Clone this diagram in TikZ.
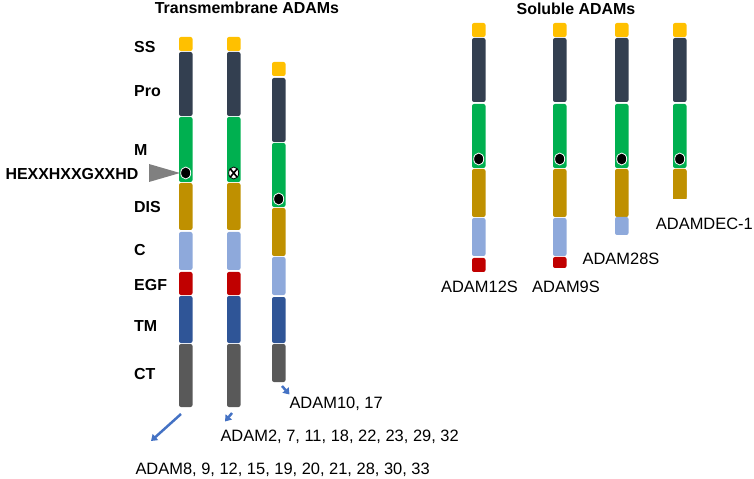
\documentclass[tikz,border=0pt]{standalone}
\usepackage{fontspec}
\setmainfont{Liberation Sans}
\usetikzlibrary{arrows.meta}
\definecolor{sscol}{HTML}{FFC000}
\definecolor{procol}{HTML}{333F50}
\definecolor{mcol}{HTML}{00B050}
\definecolor{discol}{HTML}{BF9000}
\definecolor{ccol}{HTML}{8EA9DB}
\definecolor{egfcol}{HTML}{C00000}
\definecolor{tmcol}{HTML}{2F5597}
\definecolor{ctcol}{HTML}{595959}
\definecolor{arrcol}{HTML}{4472C4}
\newcommand{\domain}[4]{\fill[#4, rounded corners=2] (#1,#2) rectangle ({#1+13.5},#3);}
\newcommand{\zincdot}[2]{\filldraw[fill=black, draw=white, line width=0.8] (#1,#2) ellipse (5 and 6);}

\begin{document}
\begin{tikzpicture}[x=1bp, y=-1bp,
    hdr/.style={font=\fontsize{16}{18}\selectfont\bfseries, anchor=base},
    side/.style={font=\fontsize{16}{18}\selectfont\bfseries, anchor=base west},
    adam/.style={font=\fontsize{16.5}{19}\selectfont, anchor=base},
    arr/.style={arrcol, line width=2.5, -{Triangle[length=6, width=8]}}]
    \useasboundingbox (0,0) rectangle (754,479);
    % titles
    \node[hdr] (tmtitle) at (247,14) {Transmembrane ADAMs};
    \node[hdr] (soltitle) at (576,14.5) {Soluble ADAMs};
    % domain names
    \node[side] (ss) at (130.7,52.7) {SS};
    \node[side] (pro) at (130.7,96.7) {Pro};
    \node[side] (m) at (130.7,155.7) {M};
    \node[side] (motif) at (2,179.7) {HEXXHXXGXXHD};
    \node[side] (dis) at (130.7,212.7) {DIS};
    \node[side] (c) at (130.7,255.7) {C};
    \node[side] (egf) at (130.7,290.7) {EGF};
    \node[side] (tm) at (130.7,331.7) {TM};
    \node[side] (ct) at (130.7,379.7) {CT};
    \fill[gray] (149,164) -- (180,173) -- (149,182) -- cycle;
    % transmembrane ADAMs
    \foreach \x in {179,227} {
        \domain{\x}{37}{51}{sscol}
        \domain{\x}{52}{116}{procol}
        \domain{\x}{117}{182}{mcol}
        \domain{\x}{183}{230}{discol}
        \domain{\x}{232}{270}{ccol}
        \domain{\x}{272}{295}{egfcol}
        \domain{\x}{296}{343}{tmcol}
        \domain{\x}{344}{407}{ctcol}
    }
    \domain{272}{62}{76}{sscol}
    \domain{272}{78}{142}{procol}
    \domain{272}{143}{207}{mcol}
    \domain{272}{208}{256}{discol}
    \domain{272}{257}{295}{ccol}
    \domain{272}{297}{343}{tmcol}
    \domain{272}{344}{382}{ctcol}
    \zincdot{185.7}{173}
    \filldraw[fill=white, draw=black, line width=0.8] (233.7,173) ellipse (5 and 6);
    \draw[black, line width=1.6] (230.4,169) -- (237,177) (230.4,177) -- (237,169);
    \zincdot{278.7}{199}
    % soluble ADAMs
    \foreach \x in {472,553,615,673} {
        \domain{\x}{23}{37}{sscol}
        \domain{\x}{38}{102}{procol}
        \domain{\x}{104}{168}{mcol}
        \domain{\x}{169}{217}{discol}
        \zincdot{\x+6.7}{159}
    }
    \domain{472}{218}{256}{ccol}
    \domain{472}{258}{272}{egfcol}
    \domain{553}{218}{256}{ccol}
    \domain{553}{257}{268}{egfcol}
    \domain{615}{217}{235}{ccol}
    \fill[white] (672,199) rectangle (688,218);
    \domain{673}{169}{199}{discol}
    % names
    \node[adam] (adam12s) at (479.5,293) {ADAM12S};
    \node[adam] (adam9s) at (566,293) {ADAM9S};
    \node[adam] (adam28s) at (621,265) {ADAM28S};
    \node[adam, anchor=base east, inner xsep=0.5] (adamdec) at (753.5,230) {ADAMDEC-1};
    \node[adam, anchor=base west] (grp3) at (286,408) {ADAM10, 17};
    \node[adam, anchor=base west] (grp2) at (217,441) {ADAM2, 7, 11, 18, 22, 23, 29, 32};
    \node[adam, anchor=base west] (grp1) at (132,474.5) {ADAM8, 9, 12, 15, 19, 20, 21, 28, 30, 33};
    % arrows
    \coordinate (end1) at (181,414);
    \coordinate (tip1) at (151,441);
    \coordinate (end2) at (232,413);
    \coordinate (tip2) at (225,421.5);
    \coordinate (end3) at (282,386);
    \coordinate (tip3) at (289.5,394.5);
    \draw[arr] (end1) -- (tip1);
    \draw[arr] (end2) -- (tip2);
    \draw[arr] (end3) -- (tip3);
\end{tikzpicture}
\end{document}
